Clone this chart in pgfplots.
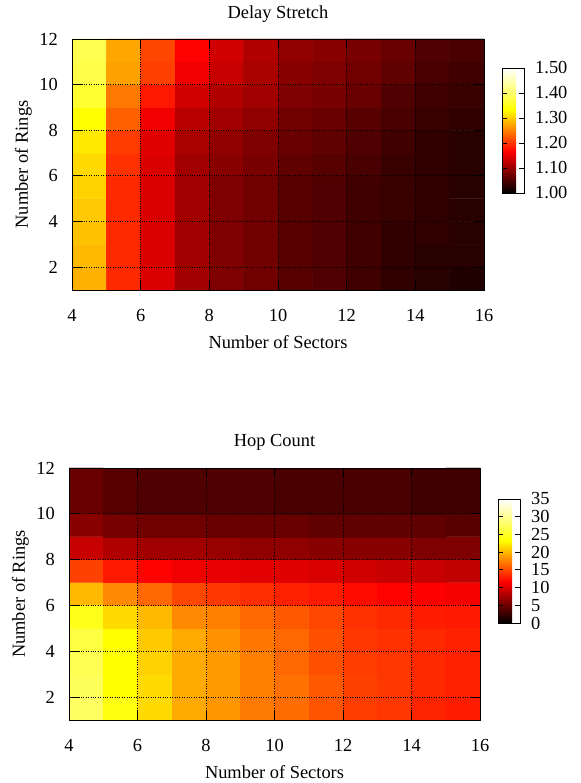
\documentclass[border=0pt]{standalone}
\usepackage{pgfplots}
\pgfplotsset{compat=1.18}
\usepackage{fontspec}
\setmainfont{Liberation Serif}
\pgfkeys{/pgf/number format/assume math mode=true}

% gnuplot-like "hot" palette: black -> red -> yellow -> white
\pgfplotsset{
  heat/.style={
    scale only axis, axis on top,
    xmin=4, xmax=16, ymin=1, ymax=12,
    xtick={4,6,...,16}, ytick={2,4,...,12},
    tick align=inside, tick pos=both,
    major tick length=10pt,
    every tick/.style={black, line width=0.9pt},
    grid=major, major grid style={black, dotted, line width=0.8pt},
    axis line style={black, line width=0.6pt},
    xlabel={Number of Sectors}, ylabel={Number of Rings},
    xticklabel style={inner sep=0pt}, xticklabel shift=19pt,
    yticklabel style={inner sep=0pt}, yticklabel shift=14pt,
    xlabel style={at={(axis description cs:0.5,-0.207)}, anchor=center},
    ylabel style={at={(axis description cs:-0.118,0.5)}, anchor=center},
    title style={at={(axis description cs:0.5,1.076)}, anchor=center},
    colormap={gphot}{rgb=(0,0,0) rgb=(1,0,0) rgb=(1,1,0) rgb=(1,1,1)},
    colorbar,
    colorbar shift/.style={xshift=18pt, yshift=-29pt},
  },
  cbar/.style={
    at={(parent axis.north east)}, anchor=north west,
    scale only axis, width=22pt, height=125pt,
    tick align=inside, ytick pos=both, yticklabel pos=right,
    major tick length=5pt,
    every tick/.style={black, line width=0.8pt},
    axis line style={black, line width=0.6pt},
    yticklabel style={inner sep=0pt}, yticklabel shift=11pt,
  },
}

\begin{document}
\begin{tikzpicture}[font=\fontsize{18.4}{21}\selectfont]
\useasboundingbox (0,0) rectangle (580pt,783pt);

\begin{axis}[heat,
  at={(72pt,493pt)}, anchor=south west, width=412pt, height=251pt,
  title={Delay Stretch},
  point meta min=1, point meta max=1.5,
  colorbar style={cbar, ytick={1,1.1,1.2,1.3,1.4,1.5},
    yticklabel style={/pgf/number format/.cd, fixed, fixed zerofill, precision=2}},
]
\addplot[matrix plot*, mesh/cols=12, point meta=explicit] coordinates {
(4.5,1.5)[1.282] (5.5,1.5)[1.193] (6.5,1.5)[1.142] (7.5,1.5)[1.105] (8.5,1.5)[1.083] (9.5,1.5)[1.073] (10.5,1.5)[1.057] (11.5,1.5)[1.052] (12.5,1.5)[1.042] (13.5,1.5)[1.031] (14.5,1.5)[1.026] (15.5,1.5)[1.021]

(4.5,2.5)[1.287] (5.5,2.5)[1.193] (6.5,2.5)[1.142] (7.5,2.5)[1.105] (8.5,2.5)[1.083] (9.5,2.5)[1.073] (10.5,2.5)[1.057] (11.5,2.5)[1.052] (12.5,2.5)[1.042] (13.5,2.5)[1.031] (14.5,2.5)[1.026] (15.5,2.5)[1.026]

(4.5,3.5)[1.292] (5.5,3.5)[1.193] (6.5,3.5)[1.142] (7.5,3.5)[1.105] (8.5,3.5)[1.083] (9.5,3.5)[1.073] (10.5,3.5)[1.057] (11.5,3.5)[1.052] (12.5,3.5)[1.042] (13.5,3.5)[1.031] (14.5,3.5)[1.031] (15.5,3.5)[1.026]

(4.5,4.5)[1.297] (5.5,4.5)[1.193] (6.5,4.5)[1.142] (7.5,4.5)[1.105] (8.5,4.5)[1.083] (9.5,4.5)[1.073] (10.5,4.5)[1.057] (11.5,4.5)[1.052] (12.5,4.5)[1.042] (13.5,4.5)[1.037] (14.5,4.5)[1.031] (15.5,4.5)[1.026]

(4.5,5.5)[1.303] (5.5,5.5)[1.193] (6.5,5.5)[1.142] (7.5,5.5)[1.105] (8.5,5.5)[1.083] (9.5,5.5)[1.073] (10.5,5.5)[1.057] (11.5,5.5)[1.052] (12.5,5.5)[1.042] (13.5,5.5)[1.037] (14.5,5.5)[1.031] (15.5,5.5)[1.026]

(4.5,6.5)[1.308] (5.5,6.5)[1.198] (6.5,6.5)[1.142] (7.5,6.5)[1.105] (8.5,6.5)[1.089] (9.5,6.5)[1.078] (10.5,6.5)[1.063] (11.5,6.5)[1.057] (12.5,6.5)[1.047] (13.5,6.5)[1.037] (14.5,6.5)[1.031] (15.5,6.5)[1.026]

(4.5,7.5)[1.318] (5.5,7.5)[1.205] (6.5,7.5)[1.147] (7.5,7.5)[1.110] (8.5,7.5)[1.094] (9.5,7.5)[1.083] (10.5,7.5)[1.068] (11.5,7.5)[1.063] (12.5,7.5)[1.052] (13.5,7.5)[1.042] (14.5,7.5)[1.031] (15.5,7.5)[1.026]

(4.5,8.5)[1.333] (5.5,8.5)[1.229] (6.5,8.5)[1.157] (7.5,8.5)[1.120] (8.5,8.5)[1.105] (9.5,8.5)[1.094] (10.5,8.5)[1.073] (11.5,8.5)[1.068] (12.5,8.5)[1.057] (13.5,8.5)[1.047] (14.5,8.5)[1.037] (15.5,8.5)[1.031]

(4.5,9.5)[1.365] (5.5,9.5)[1.245] (6.5,9.5)[1.182] (7.5,9.5)[1.136] (8.5,9.5)[1.115] (9.5,9.5)[1.105] (10.5,9.5)[1.083] (11.5,9.5)[1.078] (12.5,9.5)[1.068] (13.5,9.5)[1.052] (14.5,9.5)[1.042] (15.5,9.5)[1.037]

(4.5,10.5)[1.380] (5.5,10.5)[1.272] (6.5,10.5)[1.208] (7.5,10.5)[1.157] (8.5,10.5)[1.130] (9.5,10.5)[1.110] (10.5,10.5)[1.089] (11.5,10.5)[1.083] (12.5,10.5)[1.073] (13.5,10.5)[1.063] (14.5,10.5)[1.047] (15.5,10.5)[1.042]

(4.5,11.5)[1.385] (5.5,11.5)[1.275] (6.5,11.5)[1.212] (7.5,11.5)[1.167] (8.5,11.5)[1.136] (9.5,11.5)[1.115] (10.5,11.5)[1.094] (11.5,11.5)[1.089] (12.5,11.5)[1.078] (13.5,11.5)[1.068] (14.5,11.5)[1.052] (15.5,11.5)[1.047]
};
\end{axis}

\begin{axis}[heat,
  at={(69pt,63pt)}, anchor=south west, width=411pt, height=252pt,
  title={Hop Count},
  point meta min=0, point meta max=35,
  colorbar shift/.style={xshift=18pt, yshift=-31pt},
  colorbar style={cbar, height=124pt, ytick={0,5,...,35}},
]
\addplot[matrix plot*, mesh/cols=12, point meta=explicit] coordinates {
(4.5,1.5)[27.8] (5.5,1.5)[24.0] (6.5,1.5)[21.6] (7.5,1.5)[19.4] (8.5,1.5)[18.5] (9.5,1.5)[17.2] (10.5,1.5)[16.6] (11.5,1.5)[15.5] (12.5,1.5)[14.4] (13.5,1.5)[14.1] (14.5,1.5)[13.3] (15.5,1.5)[12.9]

(4.5,2.5)[27.4] (5.5,2.5)[23.3] (6.5,2.5)[21.6] (7.5,2.5)[19.4] (8.5,2.5)[18.7] (9.5,2.5)[17.5] (10.5,2.5)[16.8] (11.5,2.5)[15.7] (12.5,2.5)[14.6] (13.5,2.5)[14.2] (14.5,2.5)[13.5] (15.5,2.5)[13.1]

(4.5,3.5)[27.1] (5.5,3.5)[23.3] (6.5,3.5)[21.2] (7.5,3.5)[19.4] (8.5,3.5)[18.7] (9.5,3.5)[17.5] (10.5,3.5)[16.4] (11.5,3.5)[15.3] (12.5,3.5)[14.4] (13.5,3.5)[14.1] (14.5,3.5)[13.5] (15.5,3.5)[13.1]

(4.5,4.5)[26.3] (5.5,4.5)[23.3] (6.5,4.5)[20.8] (7.5,4.5)[19.4] (8.5,4.5)[18.3] (9.5,4.5)[17.1] (10.5,4.5)[16.4] (11.5,4.5)[15.3] (12.5,4.5)[14.2] (13.5,4.5)[13.9] (14.5,4.5)[13.5] (15.5,4.5)[13.1]

(4.5,5.5)[24.4] (5.5,5.5)[21.6] (6.5,5.5)[20.1] (7.5,5.5)[17.9] (8.5,5.5)[17.5] (9.5,5.5)[16.4] (10.5,5.5)[15.7] (11.5,5.5)[14.9] (12.5,5.5)[13.9] (13.5,5.5)[13.5] (14.5,5.5)[12.9] (15.5,5.5)[12.8]

(4.5,6.5)[20.1] (5.5,6.5)[17.9] (6.5,6.5)[16.4] (7.5,6.5)[14.9] (8.5,6.5)[14.2] (9.5,6.5)[13.7] (10.5,6.5)[13.1] (11.5,6.5)[12.8] (12.5,6.5)[12.2] (13.5,6.5)[11.7] (14.5,6.5)[11.6] (15.5,6.5)[11.3]

(4.5,7.5)[14.6] (5.5,7.5)[12.8] (6.5,7.5)[11.7] (7.5,7.5)[11.0] (8.5,7.5)[10.6] (9.5,7.5)[10.3] (10.5,7.5)[10.2] (11.5,7.5)[9.9] (12.5,7.5)[9.5] (13.5,7.5)[9.1] (14.5,7.5)[9.1] (15.5,7.5)[8.8]

(4.5,8.5)[9.1] (5.5,8.5)[8.1] (6.5,8.5)[7.3] (7.5,8.5)[7.3] (8.5,8.5)[7.0] (9.5,8.5)[6.6] (10.5,8.5)[6.6] (11.5,8.5)[6.2] (12.5,8.5)[6.2] (13.5,8.5)[6.2] (14.5,8.5)[5.8] (15.5,8.5)[5.8]

(4.5,9.5)[6.2] (5.5,9.5)[5.5] (6.5,9.5)[5.1] (7.5,9.5)[5.1] (8.5,9.5)[4.8] (9.5,9.5)[4.8] (10.5,9.5)[4.8] (11.5,9.5)[4.4] (12.5,9.5)[4.4] (13.5,9.5)[4.4] (14.5,9.5)[4.4] (15.5,9.5)[4.0]

(4.5,10.5)[4.8] (5.5,10.5)[4.0] (6.5,10.5)[3.6] (7.5,10.5)[3.6] (8.5,10.5)[3.6] (9.5,10.5)[3.6] (10.5,10.5)[3.3] (11.5,10.5)[3.3] (12.5,10.5)[3.3] (13.5,10.5)[3.3] (14.5,10.5)[2.9] (15.5,10.5)[2.9]

(4.5,11.5)[4.8] (5.5,11.5)[4.0] (6.5,11.5)[3.6] (7.5,11.5)[3.6] (8.5,11.5)[3.6] (9.5,11.5)[3.6] (10.5,11.5)[3.3] (11.5,11.5)[3.3] (12.5,11.5)[3.3] (13.5,11.5)[3.3] (14.5,11.5)[2.9] (15.5,11.5)[2.9]
};
\end{axis}
\end{tikzpicture}
\end{document}
